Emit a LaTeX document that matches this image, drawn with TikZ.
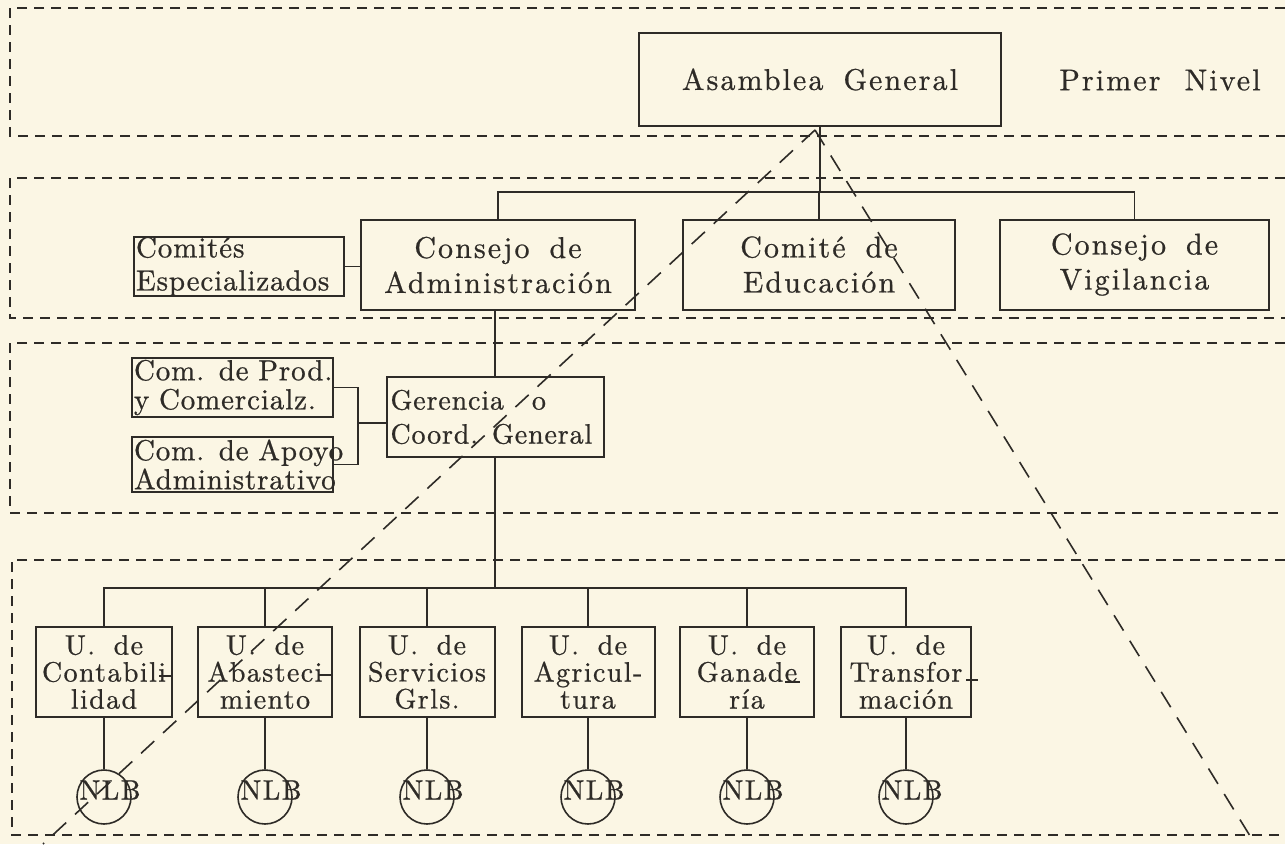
\documentclass[tikz,border=0pt]{standalone}
\usepackage{fontspec}
\setmainfont{lmroman10-regular.otf}
\newfontfamily\wideA{lmroman10-regular.otf}[LetterSpace=7,FakeBold=0.7]
\newfontfamily\wideB{lmroman10-regular.otf}[LetterSpace=3,FakeBold=0.7]
\newfontfamily\wideC{lmroman10-regular.otf}[LetterSpace=5,FakeBold=0.7]
\usetikzlibrary{calc}
\definecolor{paper}{HTML}{FBF6E4}
\definecolor{ink}{HTML}{2E2B27}
\tikzset{
  levelline/.style={draw=ink, line width=1.6pt, dash pattern=on 10pt off 7pt},
  diagline/.style={draw=ink, line width=1.6pt, dash pattern=on 18pt off 12pt},
  link/.style={draw=ink, line width=1.7pt},
  hyph/.style={draw=ink, line width=1.6pt},
  orgbox/.style={draw=ink, line width=2pt, rectangle, inner xsep=4pt, inner ysep=0pt, text=ink},
  bigbox/.style={orgbox, align=center, minimum height=90pt, font=\wideA\fontsize{30}{35}\selectfont},
  sidebox/.style={orgbox, inner xsep=2pt, align=left, font=\wideB\fontsize{29}{29}\selectfont},
  unitbox/.style={orgbox, inner xsep=2pt, align=center, minimum height=90pt, font=\wideC\fontsize{28}{27}\selectfont},
  nlbring/.style={circle, draw=ink, line width=1.6pt, minimum size=54pt, inner sep=0pt},
  nlbtext/.style={text=ink, inner sep=0pt, font=\wideC\fontsize{28}{30}\selectfont},
  leveltext/.style={text=ink, inner sep=0pt, font=\wideA\fontsize{30}{30}\selectfont},
}
\hyphenpenalty=10000
\exhyphenpenalty=10000
\begin{document}
\begin{tikzpicture}[x=1pt,y=-1pt]
\useasboundingbox (0,0) rectangle (1285,844);
\fill[paper] (0,0) rectangle (1285,844);

% dashed bands for the levels
\draw[levelline] (1285,8) -- (10,8) -- (10,136) -- (1285,136);
\draw[levelline] (1285,178) -- (10,178) -- (10,318) -- (1285,318);
\draw[levelline] (1285,343) -- (10,343) -- (10,513) -- (1285,513);
\draw[levelline] (1285,560) -- (12,560) -- (12,835) -- (1285,835);

% first level
\node[orgbox, align=center, text width=354pt, minimum height=93pt,
      font=\wideA\fontsize{30}{30}\selectfont] (ag) at (820,79.5) {Asamblea~~General};
\node[leveltext] (pn) at (1160,80) {Primer~~Nivel};

% second level
\node[bigbox, text width=266pt] (ca) at (498,265) {\mbox{Consejo~~de}\\\mbox{Administración}};
\node[bigbox, text width=264pt] (ce) at (819,264.5) {\mbox{Comité~~de}\\\mbox{Educación}};
\node[bigbox, text width=261pt] (cv) at (1134.5,264.5) {\mbox{Consejo~~de}\\\mbox{Vigilancia}};
\node[sidebox, text width=206pt, minimum height=59pt,
      font=\wideB\fontsize{29}{33}\selectfont] (cesp) at (239,266.5) {\mbox{Comités}\\\mbox{Especializados}};

% third level
\node[sidebox, text width=197pt, minimum height=59pt] (prod) at (232.5,387.5)
  {\mbox{Com. de Prod.}\\\mbox{y Comercialz.}};
\node[sidebox, text width=197pt, minimum height=55pt] (apoyo) at (232.5,464.5)
  {\mbox{Com. de Apoyo}\\\mbox{Administrativo}};
\node[orgbox, align=left, text width=209pt, minimum height=80pt,
      font=\wideB\fontsize{28}{34}\selectfont] (ger) at (495,417)
  {\mbox{Gerencia~~~o}\\\mbox{Coord. General}};

% fourth level: units
\node[unitbox, text width=132pt] (u1) at (104,672) {U.~~de\\\mbox{Contabili}\\lidad};
\node[unitbox, text width=130pt] (u2) at (265,672) {U.~~de\\\mbox{Abasteci}\\miento};
\node[unitbox, text width=131pt] (u3) at (427,672) {U.~~de\\\mbox{Servicios}\\Grls.};
\node[unitbox, text width=129pt] (u4) at (588,672) {U.~~de\\\mbox{Agricul-}\\tura};
\node[unitbox, text width=130pt] (u5) at (747,672) {U.~~de\\\mbox{Ganade}\\ría};
\node[unitbox, text width=126pt] (u6) at (906,672) {U.~~de\\\mbox{Transfor}\\mación};

% word-break hyphens typed at the right of the units
\draw[hyph] ([xshift=-14pt,yshift=-4pt]u1.east) -- ++(12,0);
\draw[hyph] ([xshift=-14pt,yshift=-3pt]u2.east) -- ++(12,0);
\draw[hyph] ([xshift=-30pt,yshift=-10pt]u5.east) -- ++(15,0);
\draw[hyph] ([xshift=-6pt,yshift=-8pt]u6.east) -- ++(12,0);

% NLB circles
\foreach \i/\x in {1/104, 2/265, 3/427, 4/588, 5/747, 6/906} {
  \node[nlbring] (n\i) at (\x,797) {};
  \node[nlbtext] (t\i) at ([xshift=6pt,yshift=7pt]n\i.center) {NLB};
}

% connectors
\coordinate (bar2) at (0,192);
\draw[link] (ag.south) -- (ag.south |- bar2);
\draw[link] (ca.north) -- (ca.north |- bar2) -- (cv.north |- bar2) -- (cv.north);
\draw[link] (ce.north) -- (ce.north |- bar2);
\draw[link] (cesp.east) -- (cesp.east -| ca.west);
\draw[link] (ca.south -| ger.north) -- (ger.north);
\draw[link] (prod.east) -- ++(24,0) |- (apoyo.east);
\coordinate (brk) at (357,423);
\draw[link] (brk) -- (brk -| ger.west);
\coordinate (bar4) at (0,588);
\draw[link] (ger.south) -- (ger.south |- bar4);
\draw[link] (u1.north) -- (u1.north |- bar4) -- (u6.north |- bar4) -- (u6.north);
\foreach \u in {u2,u3,u4,u5} \draw[link] (\u.north) -- (\u.north |- bar4);
\foreach \i in {1,...,6} \draw[link] (u\i.south) -- (n\i.north);

% pyramid outline
\coordinate (apex) at (815,130);
\coordinate (baseL) at (43,844);
\coordinate (baseR) at (1255,844);
\draw[diagline] (apex) -- (baseL);
\draw[diagline] (apex) -- (baseR);
\end{tikzpicture}
\end{document}
